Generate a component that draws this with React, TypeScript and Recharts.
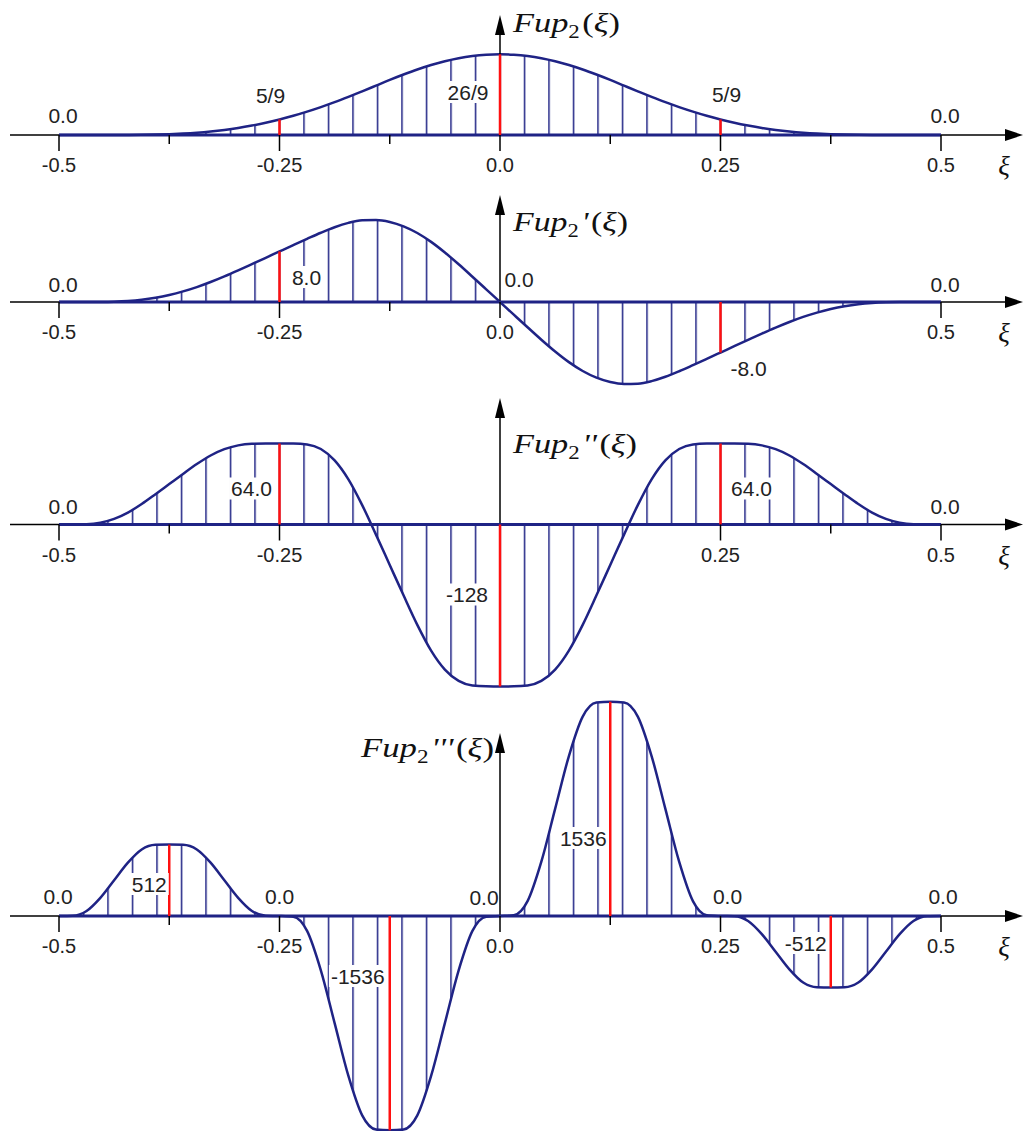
import React from 'react';
import { ComposedChart, Area, XAxis, YAxis, ReferenceLine, ReferenceDot } from 'recharts';

// sample points on xi, step 1/64
const xs = [
  -0.5, -0.484375, -0.46875, -0.453125, -0.4375, -0.421875, -0.40625, -0.390625,
  -0.375, -0.359375, -0.34375, -0.328125, -0.3125, -0.296875, -0.28125, -0.265625,
  -0.25, -0.234375, -0.21875, -0.203125, -0.1875, -0.171875, -0.15625, -0.140625,
  -0.125, -0.109375, -0.09375, -0.078125, -0.0625, -0.046875, -0.03125, -0.015625,
  0,
  0.015625, 0.03125, 0.046875, 0.0625, 0.078125, 0.09375, 0.109375, 0.125,
  0.140625, 0.15625, 0.171875, 0.1875, 0.203125, 0.21875, 0.234375, 0.25,
  0.265625, 0.28125, 0.296875, 0.3125, 0.328125, 0.34375, 0.359375, 0.375,
  0.390625, 0.40625, 0.421875, 0.4375, 0.453125, 0.46875, 0.484375, 0.5,
];

const fup = [
  0, 0, 0, 0, 0.002, 0.003, 0.007, 0.015, 0.028, 0.05, 0.081, 0.124, 0.18, 0.25, 0.337, 0.438,
  0.556, 0.688, 0.837, 1.0, 1.176, 1.366, 1.565, 1.768, 1.972, 2.165, 2.345, 2.504, 2.641, 2.75, 2.827, 2.873,
  2.889,
  2.873, 2.827, 2.75, 2.641, 2.504, 2.345, 2.165, 1.972, 1.768, 1.565, 1.366, 1.176, 1.0, 0.837, 0.688, 0.556,
  0.438, 0.337, 0.25, 0.18, 0.124, 0.081, 0.05, 0.028, 0.015, 0.007, 0.003, 0.002, 0, 0, 0, 0,
];

const fup1 = [
  0, 0, 0.003, 0.014, 0.056, 0.162, 0.36, 0.674, 1.11, 1.675, 2.36, 3.162, 4.056, 5.011, 6.0, 6.998,
  8.0, 9.0, 9.99, 10.957, 11.832, 12.515, 12.92, 12.979, 12.669, 11.974, 10.92, 9.515, 7.832, 5.966, 4.0, 2.005,
  0,
  -2.005, -4.0, -5.966, -7.832, -9.515, -10.92, -11.974, -12.669, -12.979, -12.92, -12.515, -11.832, -10.957, -9.99, -9.0, -8.0,
  -6.998, -6.0, -5.011, -4.056, -3.162, -2.36, -1.675, -1.11, -0.674, -0.36, -0.162, -0.056, -0.014, -0.003, 0, 0,
];

const fup2 = [
  0, 0.013, 0.224, 1.44, 4.442, 9.44, 16.224, 24.0, 32.0, 40.0, 47.776, 54.56, 59.558, 62.56, 63.776, 63.987,
  64.0, 63.962, 63.328, 59.68, 50.675, 35.68, 15.328, -8.0, -32.0, -56.0, -79.328, -99.68, -114.675, -123.68, -127.328, -127.962,
  -128,
  -127.962, -127.328, -123.68, -114.675, -99.68, -79.328, -56.0, -32.0, -8.0, 15.328, 35.68, 50.675, 59.68, 63.328, 63.962, 64.0,
  63.987, 63.776, 62.56, 59.558, 54.56, 47.776, 40.0, 32.0, 24.0, 16.224, 9.44, 4.442, 1.44, 0.224, 0.013, 0,
];

const fup3 = [
  0, 1.79, 35.53, 129.79, 256, 382.21, 476.47, 510.21, 512, 510.21, 476.47, 382.21, 256, 129.79, 35.53, 1.79,
  0, -5.38, -106.6, -389.4, -768, -1146.6, -1429.4, -1530.6, -1536, -1530.6, -1429.4, -1146.6, -768, -389.4, -106.6, -5.38,
  0,
  5.38, 106.6, 389.4, 768, 1146.6, 1429.4, 1530.6, 1536, 1530.6, 1429.4, 1146.6, 768, 389.4, 106.6, 5.38, 0,
  -1.79, -35.53, -129.79, -256, -382.21, -476.47, -510.21, -512, -510.21, -476.47, -382.21, -256, -129.79, -35.53, -1.79, 0,
];

// red reference stems
const marksFup = [{ x: -0.25, y: 0.5556 }, { x: 0, y: 2.8889 }, { x: 0.25, y: 0.5556 }];
const marksFup1 = [{ x: -0.25, y: 8 }, { x: 0.25, y: -8 }];
const marksFup2 = [{ x: -0.25, y: 64 }, { x: 0, y: -128 }, { x: 0.25, y: 64 }];
const marksFup3 = [{ x: -0.375, y: 512 }, { x: -0.125, y: -1536 }, { x: 0.125, y: 1536 }, { x: 0.375, y: -512 }];

// value labels (anchored on the axis)
const labelsFup = [
  { x: -0.5, text: '0.0' }, { x: -0.25, text: '5/9' }, { x: 0, text: '26/9' }, { x: 0.25, text: '5/9' }, { x: 0.5, text: '0.0' },
];
const labelsFup1 = [
  { x: -0.5, text: '0.0' }, { x: -0.25, text: '8.0' }, { x: 0, text: '0.0' }, { x: 0.25, text: '-8.0' }, { x: 0.5, text: '0.0' },
];
const labelsFup2 = [
  { x: -0.5, text: '0.0' }, { x: -0.25, text: '64.0' }, { x: 0, text: '-128' }, { x: 0.25, text: '64.0' }, { x: 0.5, text: '0.0' },
];
const labelsFup3 = [
  { x: -0.5, text: '0.0' }, { x: -0.375, text: '512' }, { x: -0.25, text: '0.0' }, { x: -0.125, text: '-1536' },
  { x: 0, text: '0.0' }, { x: 0.125, text: '1536' }, { x: 0.25, text: '0.0' }, { x: 0.375, text: '-512' }, { x: 0.5, text: '0.0' },
];

// pixel offsets of the labels above, same order
const labelPosFup = [[4, -20], [-9, -40], [-32, -43], [6, -41], [4, -20]];
const labelPosFup1 = [[4, -18], [27, -25], [19, -23], [28, 66], [4, -18]];
const labelPosFup2 = [[4, -18], [-28, -36], [-33, 70], [31, -36], [4, -18]];
const labelPosFup3 = [[-1, -20], [-20, -32], [0, -20], [-32, 60], [-16, -19], [-27, -78], [7, -20], [-25, 27], [2, -20]];

// visible axis ticks per panel
const ticksFup = [-0.5, -0.375, -0.25, -0.125, 0, 0.125, 0.25, 0.375, 0.5];
const ticksFup1 = [-0.5, -0.375, -0.25, -0.125, 0, 0.5];
const ticksFup2 = [-0.5, -0.375, -0.25, 0.25, 0.375, 0.5];
const ticksFup3 = [-0.5, -0.375, -0.25, 0, 0.125, 0.25, 0.5];

const NAVY = '#1f2385';
const RED = '#ff1010';
const INK = '#222';
const SANS = '"Liberation Sans", Arial, sans-serif';
const SERIF = '"Liberation Serif", "Times New Roman", serif';

const W = 1023;
const PX_PER_UNIT = 882;
const ORIGIN_X = 500;
const PLOT_LEFT = 8;
const PLOT_RIGHT = 1008;
const X_DOMAIN = [(PLOT_LEFT - ORIGIN_X) / PX_PER_UNIT, (PLOT_RIGHT - ORIGIN_X) / PX_PER_UNIT];
const HATCH_STEP = PX_PER_UNIT / 36;
const HATCH_START = ORIGIN_X - PX_PER_UNIT / 2;

const PANELS = [
  {
    values: fup, marks: marksFup, labels: labelsFup, labelPos: labelPosFup, ticks: ticksFup,
    title: { primes: '', dx: 13, dy: -103, width: 107 },
    frame: { top: 0, height: 190, axisY: 135, scale: 27.93, arrowTip: 15 },
  },
  {
    values: fup1, marks: marksFup1, labels: labelsFup1, labelPos: labelPosFup1, ticks: ticksFup1,
    title: { primes: "'", dx: 13, dy: -71, width: 115 },
    frame: { top: 190, height: 210, axisY: 302, scale: 6.32, arrowTip: 195 },
  },
  {
    values: fup2, marks: marksFup2, labels: labelsFup2, labelPos: labelPosFup2, ticks: ticksFup2,
    title: { primes: "''", dx: 13, dy: -72, width: 124 },
    frame: { top: 395, height: 305, axisY: 524.5, scale: 1.265, arrowTip: 398 },
  },
  {
    values: fup3, marks: marksFup3, labels: labelsFup3, labelPos: labelPosFup3, ticks: ticksFup3,
    title: { primes: "'''", dx: -139, dy: -159, width: 133 },
    frame: { top: 690, height: 441, axisY: 916, scale: 0.1395, arrowTip: 733 },
  },
];

const charW = (c: string) => (c === '.' || c === '/' ? 0.278 : c === '-' ? 0.333 : 0.556);
const textW = (s: string, size: number) => s.split('').reduce((a, c) => a + charW(c) * size, 0);
const tickText = (t: number) => ((t * 4) % 1 === 0 ? (t === 0 ? '0.0' : String(t)) : '');

const xAxisShape = (p: any) => (
  <g>
    <line x1={p.x1 + 2} y1={p.y1} x2={p.x2} y2={p.y1} stroke="#000" strokeWidth={1.5} />
    <polygon points={`${p.x2 - 3},${p.y1 - 6} ${p.x2 + 15},${p.y1} ${p.x2 - 3},${p.y1 + 6}`} fill="#000" />
  </g>
);

const yAxisShape = (p: any) => (
  <g>
    <line x1={p.x1} y1={p.y1} x2={p.x2} y2={p.y2 + 12} stroke="#000" strokeWidth={1.5} />
    <polygon points={`${p.x2 - 5},${p.y2 + 20} ${p.x2},${p.y2} ${p.x2 + 5},${p.y2 + 20}`} fill="#000" />
  </g>
);

const tickShape = (label: string) => (p: any) => (
  <g>
    <line x1={p.cx} y1={p.cy} x2={p.cx} y2={p.cy + (label ? 16 : 9)} stroke="#000" strokeWidth={1.5} />
    {label ? (
      <text x={p.cx} y={p.cy + 37} textAnchor="middle" fontFamily={SANS} fontSize={20} fill={INK}>
        {label}
      </text>
    ) : null}
  </g>
);

const LABEL_SIZE = 21;

const labelShape = (text: string, dx: number, dy: number) => (p: any) => {
  const cx = p.cx + dx;
  const cy = p.cy + dy;
  const w = textW(text, LABEL_SIZE);
  return (
    <g>
      {text !== '0.0' ? <rect x={cx - w / 2 - 2} y={cy - 11} width={w + 4} height={22} fill="#fff" /> : null}
      <text x={cx} y={cy + 7.5} textAnchor="middle" fontFamily={SANS} fontSize={LABEL_SIZE} fill={INK}>
        {text}
      </text>
    </g>
  );
};

const titleShape = (t: { primes: string; dx: number; dy: number; width: number }) => (p: any) => (
  <text
    x={p.cx + t.dx}
    y={p.cy + t.dy}
    fontFamily={SERIF}
    fontSize={27}
    fill="#111"
    textLength={t.width}
    lengthAdjust="spacingAndGlyphs"
  >
    <tspan fontStyle="italic">Fup</tspan>
    <tspan fontSize={18} dy={6}>2</tspan>
    {t.primes ? <tspan dy={-6} dx={2} fontStyle="italic">{t.primes}</tspan> : null}
    <tspan dy={t.primes ? 0 : -6} dx={2}>(</tspan>
    <tspan fontStyle="italic">ξ</tspan>
    <tspan>)</tspan>
  </text>
);

const xiShape = (p: any) => (
  <text x={p.cx + 63} y={p.cy + 40} textAnchor="middle" fontFamily={SERIF} fontStyle="italic" fontSize={27} fill="#111">
    ξ
  </text>
);

function Panel({ cfg, idx }: { cfg: (typeof PANELS)[number]; idx: number }) {
  const f = cfg.frame;
  const rows = xs.map((x, i) => ({ x, v: cfg.values[i] }));
  const yMax = (f.axisY - f.top) / f.scale;
  const yMin = -(f.top + f.height - f.axisY) / f.scale;
  const yTop = (f.axisY - f.arrowTip) / f.scale;
  const hatchId = `hatch-${idx}`;

  return (
    <div style={{ position: 'absolute', left: 0, top: f.top }}>
      <ComposedChart
        width={W}
        height={f.height}
        data={rows}
        margin={{ top: 0, right: W - PLOT_RIGHT, bottom: 0, left: PLOT_LEFT }}
      >
        <defs>
          <pattern id={hatchId} patternUnits="userSpaceOnUse" x={HATCH_START - 0.75} y={0} width={HATCH_STEP} height={10}>
            <line x1={0.75} y1={0} x2={0.75} y2={10} stroke={NAVY} strokeWidth={1.5} />
          </pattern>
        </defs>
        <XAxis type="number" dataKey="x" domain={X_DOMAIN} allowDataOverflow hide />
        <YAxis type="number" domain={[yMin, yMax]} allowDataOverflow hide />

        {cfg.ticks.map((t) => (
          <ReferenceDot key={`t${t}`} x={t} y={0} ifOverflow="visible" shape={tickShape(tickText(t))} />
        ))}

        <Area
          type="monotone"
          dataKey="v"
          baseValue={0}
          stroke={NAVY}
          strokeWidth={2.5}
          fill={`url(#${hatchId})`}
          fillOpacity={1}
          dot={false}
          activeDot={false}
          isAnimationActive={false}
        />

        <ReferenceLine y={0} ifOverflow="visible" shape={xAxisShape} />
        <ReferenceLine segment={[{ x: 0, y: 0 }, { x: 0, y: yTop }]} ifOverflow="visible" shape={yAxisShape} />
        <ReferenceLine segment={[{ x: -0.5, y: 0 }, { x: 0.5, y: 0 }]} stroke={NAVY} strokeWidth={3} ifOverflow="visible" />

        {cfg.marks.map((m) => (
          <ReferenceLine
            key={`m${m.x}`}
            segment={[{ x: m.x, y: 0 }, { x: m.x, y: m.y }]}
            stroke={RED}
            strokeWidth={2.5}
            ifOverflow="visible"
          />
        ))}

        {cfg.labels.map((l, i) => (
          <ReferenceDot
            key={`l${i}`}
            x={l.x}
            y={0}
            ifOverflow="visible"
            shape={labelShape(l.text, cfg.labelPos[i][0], cfg.labelPos[i][1])}
          />
        ))}

        <ReferenceDot x={0} y={0} ifOverflow="visible" shape={titleShape(cfg.title)} />
        <ReferenceDot x={0.5} y={0} ifOverflow="visible" shape={xiShape} />
      </ComposedChart>
    </div>
  );
}

export default function App() {
  return (
    <div style={{ position: 'absolute', left: 0, top: 0, width: W, height: 1131, background: '#fff', overflow: 'hidden' }}>
      {PANELS.map((cfg, i) => (
        <Panel key={i} cfg={cfg} idx={i} />
      ))}
    </div>
  );
}
